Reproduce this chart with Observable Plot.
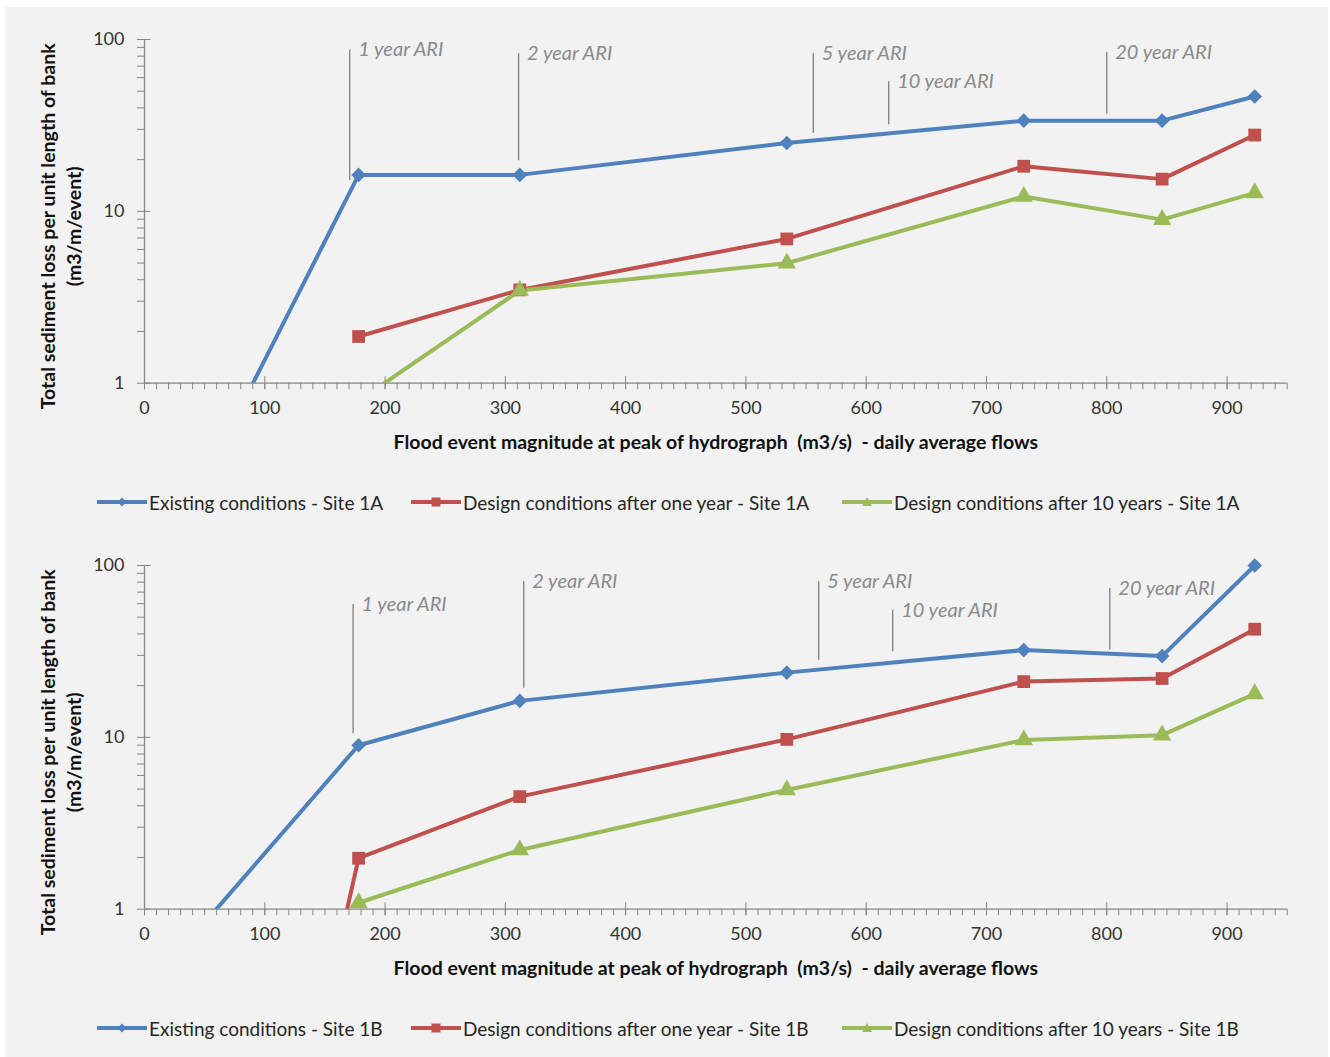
<!DOCTYPE html>
<html><head><meta charset="utf-8">
<script src="https://cdn.jsdelivr.net/npm/d3@7"></script>
<script src="https://cdn.jsdelivr.net/npm/@observablehq/plot@0.6"></script>
<style>
body{margin:0;background:#fff;width:1330px;height:1057px;overflow:hidden;font-family:Lato,"Open Sans",sans-serif;position:relative;}
#bg{position:absolute;left:5px;top:7px;width:1323px;height:1050px;background:#f2f2f2;}
.panel{position:absolute;left:0;width:1330px;}
.legend{position:absolute;left:0;width:1330px;height:24px;}
.item{position:absolute;top:0;height:24px;display:flex;align-items:center;font-size:19px;color:#262626;white-space:nowrap;}
.item svg{margin-right:2px;}
</style></head><body>
<div id="bg"></div>
<div id="top" class="panel" style="top:0px"></div>
<div id="legTop" class="legend" style="top:490px"></div>
<div id="bottom" class="panel" style="top:526px"></div>
<div id="legBottom" class="legend" style="top:1016px"></div>
<script>
// ---- Data ----
const flows = [0, 178, 312, 534, 731, 846, 923];

const site1A_existing = [0.057, 16.3, 16.3, 25.0, 33.7, 33.7, 46.6];
const site1A_oneYear  = [null, 1.87, 3.49, 6.91, 18.3, 15.4, 27.8];
const site1A_tenYears = [null, 0.79, 3.46, 4.99, 12.2, 8.95, 12.8];

const site1B_existing = [0.33, 9.0, 16.3, 23.8, 32.2, 29.7, 100];
const site1B_oneYear  = [0.000006, 1.98, 4.52, 9.73, 21.1, 22.0, 42.6];
const site1B_tenYears = [null, 1.09, 2.21, 4.94, 9.65, 10.3, 17.9];

const names1A = ["Existing conditions - Site 1A", "Design conditions after one year - Site 1A", "Design conditions after 10 years - Site 1A"];
const names1B = ["Existing conditions - Site 1B", "Design conditions after one year - Site 1B", "Design conditions after 10 years - Site 1B"];
const seriesColors = ["#4F81BD", "#C0504D", "#9BBB59"];
const seriesSymbols = ["diamond2", "square", "triangle"];
const seriesR = [6.6, 7.2, 6.8];

const ariLabels = ["1 year ARI", "2 year ARI", "5 year ARI", "10 year ARI", "20 year ARI"];
const ari1A_x      = [170.6, 311, 556, 618.7, 800];
const ari1A_top    = [86.8, 82.6, 82.6, 56.8, 84];
const ari1A_bottom = [15.1, 19.7, 28.4, 31.9, 36.8];
const ari1B_x      = [173.4, 315.3, 560.5, 622, 802.5];
const ari1B_top    = [59.3, 80.3, 80.3, 55, 73.5];
const ari1B_bottom = [10.5, 19.3, 28.1, 31.5, 32.2];

const xMajorTicks = d3.range(0, 901, 100);
const xMinorTicks = d3.range(0, 951, 10);
const yMajorTicks = [1, 10, 100];
const yMinorTicks = [2,3,4,5,6,7,8,9,20,30,40,50,60,70,80,90];

const xLabel = "Flood event magnitude at peak of hydrograph  (m3/s)  - daily average flows";
const yLabel = "Total sediment loss per unit length of bank\n(m3/m/event)";

const axisColor = "#868686";

function panel(seriesValues, names, ariX, ariTop, ariBottom) {
  const rows = [];
  seriesValues.forEach((vals, k) => {
    flows.forEach((f, i) => rows.push({flow: f, value: vals[i], series: names[k], k}));
  });
  const ari = ariLabels.map((l, i) => ({label: l, x: ariX[i], top: ariTop[i], bottom: ariBottom[i]}));
  const marks = [
    Plot.ruleY([1], {stroke: axisColor, strokeWidth: 1.3}),
    Plot.ruleX([0], {stroke: axisColor, strokeWidth: 1.3}),
    Plot.axisX({ticks: xMinorTicks, tickSize: 6.5, tickFormat: () => "", stroke: axisColor}),
    Plot.axisX({ticks: xMajorTicks, tickSize: 13, dy: -6.5, tickFormat: () => "", stroke: axisColor}),
    Plot.axisX({ticks: xMajorTicks, tickSize: 0, tickPadding: 18.5, tickFormat: d => String(d), fontSize: 18, fill: "#333"}),
    Plot.axisY({ticks: yMinorTicks, tickSize: 7, tickFormat: () => "", stroke: axisColor}),
    Plot.axisY({ticks: yMajorTicks, tickSize: 13.5, dx: 6.5, tickFormat: () => "", stroke: axisColor}),
    Plot.axisY({ticks: yMajorTicks, tickSize: 0, tickPadding: 20, tickFormat: d => String(d), fontSize: 18, fill: "#333"}),
    Plot.ruleX(ari, {x: "x", y1: "top", y2: "bottom", stroke: "#7f7f7f", strokeWidth: 1.3}),
    Plot.text(ari, {x: "x", y: "top", text: "label", textAnchor: "start", dx: 8.5, fontStyle: "italic", fontSize: 20, fill: "#8a8a8a"}),
    Plot.line(rows, {x: "flow", y: "value", z: "series", stroke: "series", strokeWidth: 4, strokeLinejoin: "round", clip: true}),
    Plot.text([xLabel], {text: d => d, frameAnchor: "bottom", dy: 59.5, lineAnchor: "middle", fontWeight: "bold", fontSize: 19.5, fill: "#111"}),
    Plot.text([yLabel], {text: d => d, frameAnchor: "left", rotate: -90, dx: -85, dy: 15, textAnchor: "middle", lineAnchor: "middle", lineHeight: 1.35, fontWeight: "bold", fontSize: 19.5, fill: "#111"})
  ];
  seriesValues.forEach((vals, k) => {
    marks.push(Plot.dot(rows.filter(d => d.k === k), {
      x: "flow", y: "value", fill: "series", symbol: seriesSymbols[k], r: seriesR[k],
      filter: d => d.value != null && d.value >= 1
    }));
  });
  return Plot.plot({
    width: 1330, height: 470,
    marginLeft: 144, marginRight: 43.3, marginTop: 39, marginBottom: 87.3,
    x: {domain: [0, 950], axis: null},
    y: {type: "log", domain: [1, 100], axis: null},
    color: {domain: names, range: seriesColors},
    style: {fontFamily: "Lato, 'Open Sans', sans-serif", background: "transparent", overflow: "visible"},
    marks
  });
}

function legend(el, names) {
  const starts = [97, 411, 842];
  names.forEach((n, k) => {
    const item = document.createElement("div");
    item.className = "item";
    item.style.left = starts[k] + "px";
    const c = seriesColors[k];
    let marker;
    if (k === 0) marker = `<path d="M25,2.5 L29.5,7 L25,11.5 L20.5,7Z" fill="${c}"/>`;
    else if (k === 1) marker = `<rect x="20.5" y="2.5" width="9" height="9" fill="${c}"/>`;
    else marker = `<path d="M25,2 L30,11 L20,11Z" fill="${c}"/>`;
    item.innerHTML = `<svg width="50" height="14"><line x1="0" y1="7" x2="50" y2="7" stroke="${c}" stroke-width="4"/>${marker}</svg><span>${n}</span>`;
    el.appendChild(item);
  });
}

document.getElementById("top").appendChild(panel([site1A_existing, site1A_oneYear, site1A_tenYears], names1A, ari1A_x, ari1A_top, ari1A_bottom));
document.getElementById("bottom").appendChild(panel([site1B_existing, site1B_oneYear, site1B_tenYears], names1B, ari1B_x, ari1B_top, ari1B_bottom));
legend(document.getElementById("legTop"), names1A);
legend(document.getElementById("legBottom"), names1B);
</script>
</body></html>
